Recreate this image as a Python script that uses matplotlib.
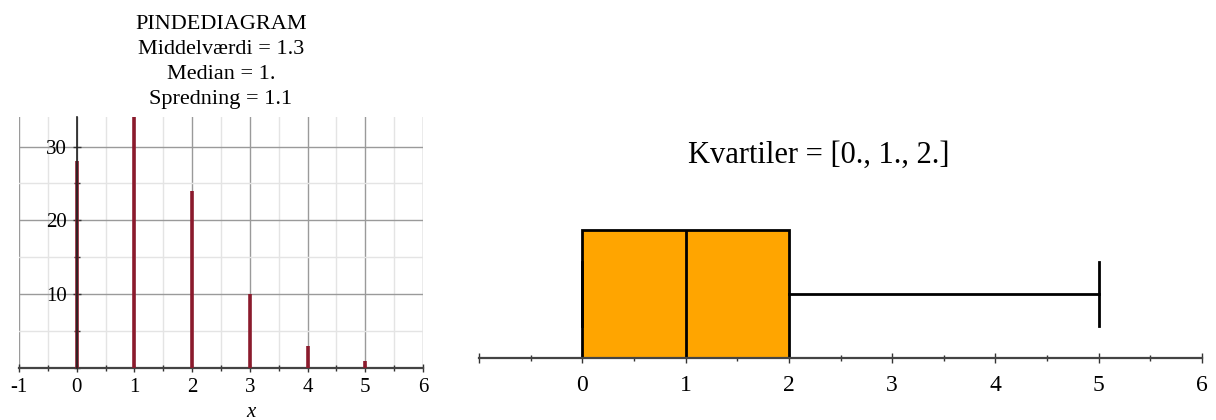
import numpy as np
import matplotlib.pyplot as plt
from matplotlib.ticker import MultipleLocator

plt.rcParams['font.family'] = ['Liberation Serif', 'DejaVu Serif']

# observed values and how often each occurs
values = [0, 1, 2, 3, 4, 5]
counts = [28, 34, 24, 10, 3, 1]
xticks = [-1, 0, 1, 2, 3, 4, 5, 6]

data = np.repeat(values, counts)
mean = data.mean()
median = np.median(data)
spread = data.std(ddof=1)
q1, q2, q3 = np.percentile(data, [25, 50, 75], method='lower')

fig = plt.figure(figsize=(12.16, 4.2), dpi=100)

# ---- stick diagram ----
ax1 = fig.add_axes([0.0156, 0.1238, 0.3322, 0.5976])
ax1.set_xlim(-1, 6)
ax1.set_ylim(0, 34)
ax1.vlines(values, 0, counts, color='#8b1a2c', lw=2.6, zorder=3)

ax1.set_xticks(xticks)
ax1.set_xticklabels([str(t) for t in xticks])
ax1.xaxis.set_minor_locator(MultipleLocator(0.5))
ax1.set_yticks([10, 20, 30])
ax1.yaxis.set_minor_locator(MultipleLocator(5))
ax1.grid(which='major', color='#9a9a9a', lw=1.0)
ax1.grid(which='minor', color='#e4e4e4', lw=1.0)

for s in ['top', 'right']:
    ax1.spines[s].set_visible(False)
ax1.spines['left'].set_position(('data', 0))
ax1.spines['bottom'].set_position(('data', 0))
ax1.spines['left'].set_color('#222222')
ax1.spines['bottom'].set_color('#444444')
ax1.spines['left'].set_zorder(4)
ax1.spines['left'].set_linewidth(1.2)
ax1.spines['bottom'].set_linewidth(1.6)
ax1.tick_params(which='major', direction='inout', length=6, width=1, color='#333333',
                labelsize=15, pad=4)
ax1.tick_params(which='minor', direction='inout', length=4, width=1, color='#333333')

ax1.set_xlabel('x', fontsize=15, style='italic')
ax1.xaxis.set_label_coords(0.575, -0.14)

ax1.set_title('PINDEDIAGRAM\nMiddelværdi = %.1f\nMedian = %.0f.\nSpredning = %.1f'
              % (mean, median, spread),
              fontsize=16, linespacing=1.42, pad=9.5)

# ---- box plot ----
ax2 = fig.add_axes([0.394, 0.1476, 0.5945, 0.457])
ax2.set_xlim(-1, 6)
ax2.set_ylim(0, 1.5)
ax2.bxp([{'med': q2, 'q1': q1, 'q3': q3, 'whislo': data.min(), 'whishi': data.max(),
          'fliers': []}],
        positions=[0.5], widths=[1.0], vert=False, patch_artist=True,
        boxprops=dict(facecolor='#ffa500', edgecolor='black', lw=2),
        medianprops=dict(color='black', lw=2),
        whiskerprops=dict(color='black', lw=2),
        capprops=dict(color='black', lw=2), capwidths=[0.5])

for s in ['top', 'right', 'left']:
    ax2.spines[s].set_visible(False)
ax2.spines['bottom'].set_color('#444444')
ax2.spines['bottom'].set_linewidth(1.6)
ax2.set_yticks([])
ax2.set_xticks(xticks)
ax2.set_xticklabels([''] + [str(t) for t in xticks[1:]])
ax2.xaxis.set_minor_locator(MultipleLocator(0.5))
ax2.tick_params(which='major', direction='inout', length=7, width=1, color='#333333',
                labelsize=17, pad=9)
ax2.tick_params(which='minor', direction='inout', length=5, width=1, color='#333333')

ax2.text(0.47, 1.057, 'Kvartiler = [%.0f., %.0f., %.0f.]' % (q1, q2, q3),
         transform=ax2.transAxes, fontsize=22, ha='center', va='center')

fig.savefig('out.png', dpi=100)
